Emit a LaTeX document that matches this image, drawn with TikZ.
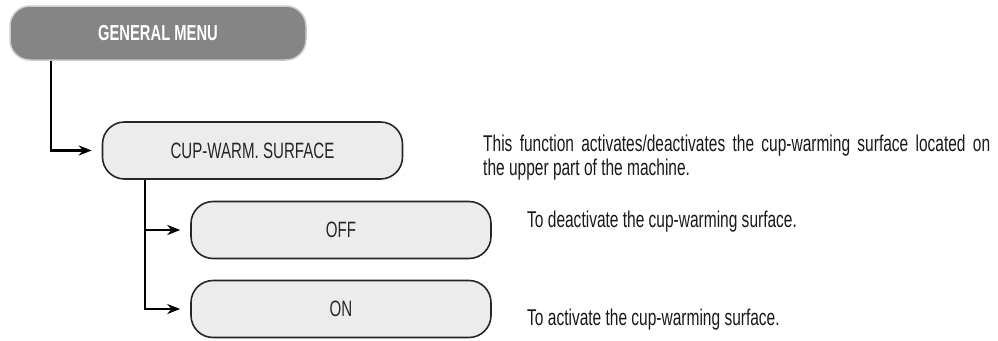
\documentclass[tikz,border=0pt]{standalone}
\usepackage{fontspec}
\usetikzlibrary{arrows.meta}
\newfontfamily\condf[FakeStretch=0.68]{Liberation Sans}
\definecolor{gmfill}{HTML}{858585}
\definecolor{boxfill}{HTML}{ECECEC}
\definecolor{boxline}{HTML}{262626}
\tikzset{
  menubox/.style={rounded corners=22pt, fill=boxfill, draw=boxline, line width=1.6pt,
    minimum width=300pt, minimum height=57pt, inner sep=0pt, font=\condf\fontsize{22.2}{24}\selectfont, text=black!85},
  gmbox/.style={rounded corners=20pt, fill=gmfill, draw=black!20, line width=1.5pt,
    minimum width=296pt, minimum height=54pt, inner sep=0pt, font=\condf\bfseries\fontsize{21.7}{24}\selectfont, text=white},
  desc/.style={anchor=base west, inner sep=0pt, font=\condf\fontsize{22.8}{24}\selectfont, text=black!90},
  arr/.style={line width=2.2pt, -{Stealth[length=13pt,width=10pt]}}
}
\begin{document}
\begin{tikzpicture}[x=1pt,y=-1pt]
\useasboundingbox (0,0) rectangle (998,340);
\node[gmbox] (gm) at (158,33) {GENERAL MENU};
\node[menubox] (cup) at (252.5,150.5) {CUP-WARM. SURFACE};
\node[menubox] (off) at (341,230) {OFF};
\node[menubox] (on) at (341,309) {ON};
\draw[arr] ([xshift=42pt]gm.south west) |- ([xshift=-10pt]cup.west);
\draw[arr] ([xshift=43pt]cup.south west) |- ([xshift=-10pt]off.west);
\draw[arr] ([xshift=43pt]cup.south west) |- ([xshift=-10pt]on.west);
\node[desc] (d1) at (483,151) {\makebox[507pt][s]{This function activates/deactivates the cup-warming surface located on}};
\node[desc] (d2) at (483,175) {the upper part of the machine.};
\node[desc] (d3) at (527,227) {To deactivate the cup-warming surface.};
\node[desc] (d4) at (527,325) {To activate the cup-warming surface.};
\end{tikzpicture}
\end{document}
